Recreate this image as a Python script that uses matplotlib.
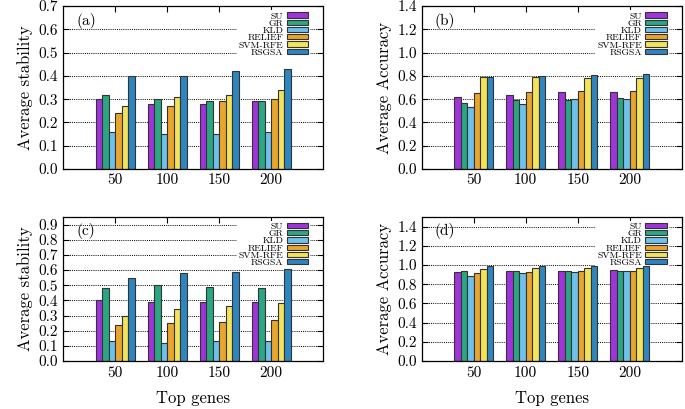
import numpy as np
import matplotlib
matplotlib.use('Agg')
import matplotlib.pyplot as plt

plt.rcParams['font.family'] = ['cmr10', 'DejaVu Serif']
plt.rcParams['axes.formatter.use_mathtext'] = True

# Data
top_genes = ['50', '100', '150', '200']
methods = ['SU', 'GR', 'KLD', 'RELIEF', 'SVM-RFE', 'RSGSA']
colors = ['#a033d9', '#2aa682', '#6fc0ea', '#e9a62e', '#f2e35a', '#2d86bf']

# (a) average stability, dataset 1
stab_a = {
    'SU':      [0.30, 0.28, 0.28, 0.29],
    'GR':      [0.32, 0.30, 0.29, 0.29],
    'KLD':     [0.16, 0.15, 0.15, 0.16],
    'RELIEF':  [0.24, 0.27, 0.29, 0.30],
    'SVM-RFE': [0.27, 0.31, 0.32, 0.34],
    'RSGSA':   [0.40, 0.40, 0.42, 0.43],
}
# (b) average accuracy, dataset 1
acc_b = {
    'SU':      [0.62, 0.64, 0.66, 0.66],
    'GR':      [0.57, 0.59, 0.59, 0.61],
    'KLD':     [0.53, 0.56, 0.60, 0.60],
    'RELIEF':  [0.65, 0.66, 0.67, 0.67],
    'SVM-RFE': [0.79, 0.79, 0.78, 0.78],
    'RSGSA':   [0.79, 0.80, 0.81, 0.82],
}
# (c) average stability, dataset 2
stab_c = {
    'SU':      [0.40, 0.39, 0.39, 0.39],
    'GR':      [0.48, 0.50, 0.49, 0.48],
    'KLD':     [0.13, 0.12, 0.13, 0.13],
    'RELIEF':  [0.24, 0.25, 0.26, 0.27],
    'SVM-RFE': [0.30, 0.34, 0.36, 0.38],
    'RSGSA':   [0.55, 0.58, 0.59, 0.61],
}
# (d) average accuracy, dataset 2
acc_d = {
    'SU':      [0.93, 0.94, 0.94, 0.95],
    'GR':      [0.94, 0.94, 0.94, 0.94],
    'KLD':     [0.89, 0.92, 0.93, 0.94],
    'RELIEF':  [0.92, 0.93, 0.94, 0.94],
    'SVM-RFE': [0.96, 0.97, 0.97, 0.97],
    'RSGSA':   [0.99, 0.99, 0.99, 0.99],
}


def draw_panel(ax, data, ylim, yticks, ylabel, tag, xlabel=None):
    x = np.arange(1, len(top_genes) + 1)
    w = 0.125
    for i, m in enumerate(methods):
        ax.bar(x + (i - 2.5) * w, data[m], width=w, color=colors[i],
               edgecolor='#333333', linewidth=0.8, label=m, zorder=2)
    ax.set_xlim(0, 5)
    ax.set_ylim(*ylim)
    ax.set_xticks(x)
    ax.set_xticklabels(top_genes)
    ax.set_yticks(yticks)
    ax.set_yticklabels([f'{t:.1f}' for t in yticks])
    ax.yaxis.grid(True, color='black', linestyle=(0, (1, 1.2)), linewidth=0.7)
    ax.set_axisbelow(True)
    ax.tick_params(direction='in', top=True, right=True, length=4,
                   labelsize=11, width=0.8)
    for s in ax.spines.values():
        s.set_linewidth(0.9)
    ax.set_ylabel(ylabel, fontsize=12)
    if xlabel:
        ax.set_xlabel(xlabel, fontsize=12, labelpad=8)
    ax.text(0.05, 0.955, tag, transform=ax.transAxes, fontsize=11,
            va='top', ha='left')
    # gnuplot-like key: labels right-aligned before the colour boxes
    leg = ax.legend(loc='upper right', bbox_to_anchor=(0.95, 0.975),
                    fontsize=7, markerfirst=False,
                    handlelength=2.2, handleheight=0.45, labelspacing=-0.12,
                    handletextpad=0.35, borderpad=0.2, borderaxespad=0,
                    frameon=True, fancybox=False, framealpha=1,
                    edgecolor='none', facecolor='white')
    for t in leg.get_texts():
        t.set_ha('right')
    # key hides the grid but sits under the bars
    leg.set_zorder(1.5)


fig = plt.figure(figsize=(6.85, 4.09), dpi=100)
ax_a = fig.add_axes([0.092, 0.587, 0.3796, 0.398])
ax_b = fig.add_axes([0.6156, 0.587, 0.3796, 0.398])
ax_c = fig.add_axes([0.092, 0.1174, 0.3796, 0.352])
ax_d = fig.add_axes([0.6156, 0.1174, 0.3796, 0.352])

draw_panel(ax_a, stab_a, (0, 0.7), np.arange(0, 0.71, 0.1), 'Average stability', '(a)')
draw_panel(ax_b, acc_b, (0, 1.4), np.arange(0, 1.41, 0.2), 'Average Accuracy', '(b)')
draw_panel(ax_c, stab_c, (0, 0.95), np.arange(0, 0.91, 0.1), 'Average stability', '(c)',
           xlabel='Top genes')
draw_panel(ax_d, acc_d, (0, 1.5), np.arange(0, 1.41, 0.2), 'Average Accuracy', '(d)',
           xlabel='Top genes')

plt.savefig('out.png', dpi=100)
